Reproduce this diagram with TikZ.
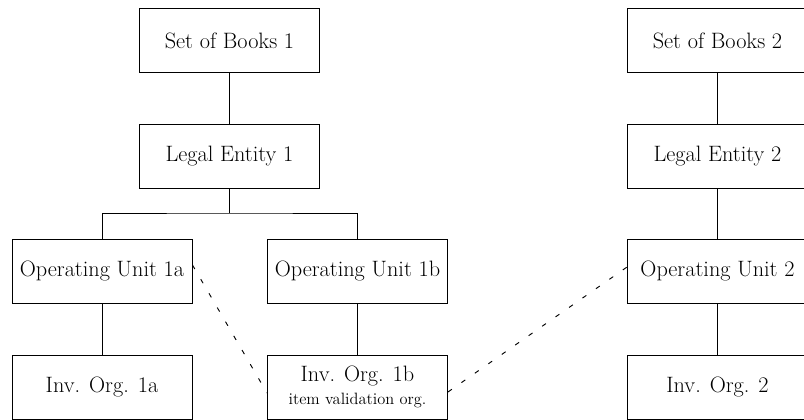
\documentclass[tikz,border=0pt]{standalone}
\begin{document}
\begin{tikzpicture}[x=0.03cm,y=-0.03cm,
  unit/.style={draw,line width=0.8pt,minimum width=5.4cm,minimum height=1.92cm,
    inner sep=0pt,align=center,font=\fontsize{19}{22}\selectfont},
  link/.style={line width=0.8pt},
  assign/.style={line width=0.8pt,dash pattern=on 4pt off 10pt}]
\clip (0,0) rectangle (804,420);

% first set of books
\node[unit] (sob1) at (229.5,40.5) {Set of Books 1};
\node[unit] (le1) at (229.5,156) {Legal Entity 1};
\node[unit] (ou1a) at (102,271) {Operating Unit 1a};
\node[unit] (ou1b) at (357.5,271) {Operating Unit 1b};
\node[unit] (inv1a) at (102,387) {Inv. Org. 1a};
\node[unit] (inv1b) at (357.5,387) {Inv. Org. 1b\\[-3pt]{\fontsize{14}{16}\selectfont item validation org.}};

% second set of books
\node[unit] (sob2) at (717.5,40.5) {Set of Books 2};
\node[unit] (le2) at (717.5,156) {Legal Entity 2};
\node[unit] (ou2) at (717.5,271) {Operating Unit 2};
\node[unit] (inv2) at (717.5,387) {Inv. Org. 2};

\coordinate (fork) at (229.5,213);

\draw[link] (sob1) -- (le1);
\draw[link] (le1) -- (fork);
\draw[link] (ou1a.north) |- (fork) -| (ou1b.north);
\draw[link] (ou1a) -- (inv1a);
\draw[link] (ou1b) -- (inv1b);

\draw[link] (sob2) -- (le2);
\draw[link] (le2) -- (ou2);
\draw[link] (ou2) -- (inv2);

\draw[assign] ([yshift=0.18cm]ou1a.east) -- ([yshift=-0.18cm]inv1b.west);
\draw[assign] ([yshift=-0.15cm]inv1b.east) -- ([yshift=0.12cm]ou2.west);
\end{tikzpicture}
\end{document}
